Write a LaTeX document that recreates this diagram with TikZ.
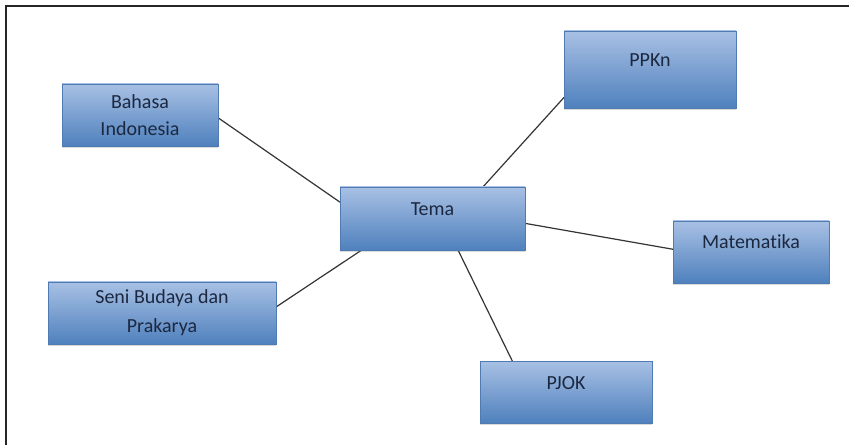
\documentclass[tikz,border=0pt]{standalone}
\usepackage{fontspec}
\setmainfont{Carlito}[Ligatures={NoCommon}]
\usepackage{tikz}
\usetikzlibrary{shadows}
\pgfdeclarelayer{nodelayer}
\pgfdeclarelayer{edgelayer}
\pgfsetlayers{edgelayer,nodelayer,main}
\definecolor{boxtop}{RGB}{168,192,228}
\definecolor{boxbottom}{RGB}{79,129,189}
\definecolor{boxline}{RGB}{80,122,178}
\definecolor{boxtext}{RGB}{28,40,64}
\definecolor{edgegray}{RGB}{52,52,52}
\tikzset{topic/.style={shape=rectangle, draw=boxline, line width=0.8pt,
top color=boxtop, bottom color=boxbottom, text=boxtext,
font=\fontsize{20pt}{27pt}\selectfont, align=center, inner sep=0pt, outer sep=0pt,
drop shadow={opacity=.25, shadow xshift=0pt, shadow yshift=-2pt, fill=black!60}}}
\tikzset{oneline/.style={text height=12pt, text depth=18pt}}
\tikzstyle{link}=[line width=1.2pt, draw=edgegray]
\tikzstyle{frame}=[line width=2.5pt, draw=black!85]

\begin{document}
\begin{tikzpicture}[x=10pt, y=10pt]
        \useasboundingbox (0,0) rectangle (84.9,44.5);
        \draw [style=frame] (0.6,0) |- (84.9,43.9);
        \begin{pgfonlayer}{nodelayer}
            \node [style=topic, minimum width=156pt, minimum height=62pt] (0) at (14.0, 33.0) {Bahasa\\Indonesia};
            \node [style=topic, style=oneline, minimum width=172pt, minimum height=77pt] (1) at (65.0, 37.55) {PPKn};
            \node [style=topic, style=oneline, minimum width=185pt, minimum height=63pt] (2) at (43.25, 22.65) {Tema};
            \node [style=topic, style=oneline, minimum width=156pt, minimum height=62pt] (3) at (75.1, 19.3) {Matematika};
            \node [style=topic, font=\fontsize{20pt}{29pt}\selectfont, minimum width=228pt, minimum height=62pt] (4) at (16.2, 13.2) {Seni Budaya dan\\Prakarya};
            \node [style=topic, style=oneline, minimum width=172pt, minimum height=62pt] (5) at (56.6, 5.3) {PJOK};
        \end{pgfonlayer}
        \begin{pgfonlayer}{edgelayer}
            \draw [style=link] (0.358.5) to (2.170.5);
            \draw [style=link] (1.198.5) to (2.32.5);
            \draw [style=link] (2.357.8) to (3.178.5);
            \draw [style=link] (4.3) to (2.204);
            \draw [style=link] (2.309) to (5.150.5);
        \end{pgfonlayer}
\end{tikzpicture}
\end{document}
